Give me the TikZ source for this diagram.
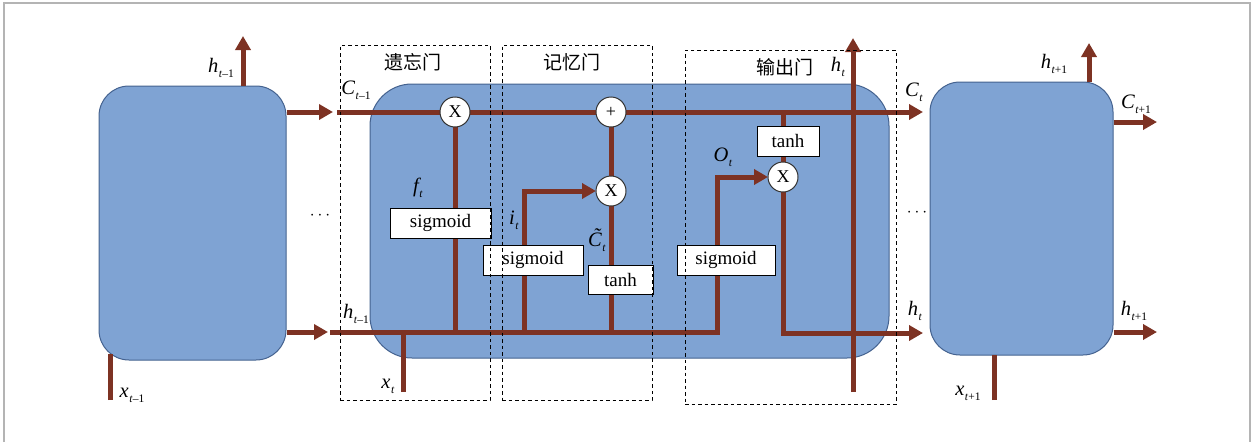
\documentclass[tikz,border=0pt]{standalone}
\usepackage{fontspec}
\setmainfont{Liberation Serif}
\newfontfamily\cjk{Noto Sans CJK SC}
\usetikzlibrary{arrows.meta}
\definecolor{flowc}{HTML}{7D3223}
\definecolor{cellfill}{HTML}{7FA3D3}
\definecolor{celledge}{HTML}{44628F}
\definecolor{frame}{HTML}{B4B4B4}
\newcommand{\vlab}[2]{{\fontsize{20.5}{20.5}\selectfont\itshape #1}\kern0.5pt\raisebox{-5pt}{\fontsize{11.5}{11.5}\selectfont #2}}
\newcommand{\tsub}{\textit{t}}
\tikzset{
  cell/.style={draw=celledge, fill=cellfill, line width=1pt, inner sep=0pt},
  gatebox/.style={draw=black, line width=1pt, dash pattern=on 3.5pt off 3pt, inner sep=0pt},
  flow/.style={draw=flowc, line width=5pt},
  flowarrow/.style={flow, -{Triangle[length=14pt,width=15pt]}},
  opc/.style={circle, draw=black!80, fill=white, line width=1pt, minimum size=30pt, inner sep=0pt, font=\fontsize{18}{18}\selectfont},
  fbox/.style={draw=black, fill=white, line width=1pt, inner sep=0pt, font=\fontsize{19}{19}\selectfont},
  lbl/.style={inner sep=0pt},
  title/.style={inner sep=0pt, font=\cjk\fontsize{19}{19}\selectfont},
}
\begin{document}
\begin{tikzpicture}[x=1pt,y=-1pt]
\useasboundingbox (0,0) rectangle (1252,442);
\draw[frame, line width=1.5pt] (4,442) -- (4,3) -- (1250,3) -- (1250,442);

% cells
\node[cell, minimum width=187pt, minimum height=274pt, rounded corners=30pt] (L) at (192.5,223) {};
\node[cell, minimum width=519pt, minimum height=274pt, rounded corners=42pt] (M) at (629.5,221) {};
\node[cell, minimum width=183pt, minimum height=273pt, rounded corners=30pt] (R) at (1021.5,218.5) {};

% coordinates
\coordinate (Cin) at (333,112);
\coordinate (C0) at (337,112);
\coordinate (hin) at (328,332);
\coordinate (hA) at (330,332);
\coordinate (hB) at (717,332);
\coordinate (Cout) at (923,112);
\coordinate (hout) at (923,333);
\coordinate (hLtop) at (243,36);
\coordinate (xL) at (110,400);
\coordinate (xLtop) at (110,354);
\coordinate (xM) at (403,392);
\coordinate (xMtop) at (403,332);
\coordinate (htbot) at (853,392);
\coordinate (httop) at (853,38);
\coordinate (hRtop) at (1089,43);
\coordinate (CRout) at (1157,122);
\coordinate (hRout) at (1157,332);
\coordinate (xR) at (994,400);
\coordinate (xRtop) at (994,355);

% operator positions
\coordinate (pfx) at (455,112);
\coordinate (pplus) at (611,112);
\coordinate (pix) at (611,191);
\coordinate (pox) at (783,177);

% left cell connectors
\draw[flowarrow] (L.east |- Cin) -- (Cin);
\draw[flowarrow] (L.east |- hin) -- (hin);
\draw[flowarrow] (L.north -| hLtop) -- (hLtop);
\draw[flow] (xL) -- (xLtop);

% right cell connectors
\draw[flowarrow] (R.north -| hRtop) -- (hRtop);
\draw[flowarrow] (R.east |- CRout) -- (CRout);
\draw[flowarrow] (R.east |- hRout) -- (hRout);
\draw[flow] (xR) -- (xRtop);

% central cell
\draw[flowarrow] (C0) -- (Cout);
\draw[flowarrow] (hA) -- (hB) -- (hB |- pox) -- ([xshift=-15pt]pox);
\draw[flowarrow] (pfx |- hA) -- ([yshift=15pt]pfx);
\draw[flowarrow] (524,332) -- (524,191) -- ([xshift=-15pt]pix);
\draw[flow] (pix |- hA) -- (pix);
\draw[flowarrow] (pix) -- ([yshift=15pt]pplus);
\draw[flow] (pox |- C0) -- (pox);
\draw[flowarrow] (pox) -- (pox |- hout) -- (hout);
\draw[flowarrow] (htbot) -- (httop);
\draw[flow] (xM) -- (xMtop);

% function boxes
\node[fbox, minimum width=101pt, minimum height=30pt] (s1) at (440.5,223) {sigmoid};
\node[fbox, minimum width=100pt, minimum height=30pt] (s2) at (533,260) {sigmoid};
\node[fbox, minimum width=65pt, minimum height=29pt] (t1) at (620.5,279.5) {tanh};
\node[fbox, minimum width=98pt, minimum height=30pt] (s3) at (726,260) {sigmoid};
\node[fbox, minimum width=62pt, minimum height=30pt] (t2) at (788,141) {tanh};

% operators
\node[opc] (fx) at (pfx) {X};
\node[opc] (plus) at (pplus) {+};
\node[opc] (ix) at (pix) {X};
\node[opc] (ox) at (pox) {X};

% labels
\node[lbl] (lhL) at (221,68) {\vlab{h}{\tsub–1}};
\node[lbl] (lxL) at (132,395) {\vlab{x}{\tsub–1}};
\node[lbl] (lC0) at (356,90) {\vlab{C}{\tsub–1}};
\node[lbl] (lh0) at (356,314) {\vlab{h}{\tsub–1}};
\node[lbl] (lf) at (418,188) {\vlab{f}{\tsub}};
\node[lbl] (li) at (514,220) {\vlab{i}{\tsub}};
\node[lbl] (lCt) at (597,240) {\vlab{\~{C}}{\tsub}};
\node[lbl] (lx) at (388,386) {\vlab{x}{\tsub}};
\node[lbl] (lO) at (723,157) {\vlab{O}{\tsub}};
\node[lbl] (lht) at (838,67) {\vlab{h}{\tsub}};
\node[lbl] (lCout) at (914,92) {\vlab{C}{\tsub}};
\node[lbl] (lhout) at (915,311) {\vlab{h}{\tsub}};
\node[lbl] (lhR) at (1054,64) {\vlab{h}{\tsub+1}};
\node[lbl] (lCR) at (1136,104) {\vlab{C}{\tsub+1}};
\node[lbl] (lhR2) at (1134,311) {\vlab{h}{\tsub+1}};
\node[lbl] (lxR) at (968,393) {\vlab{x}{\tsub+1}};
\node[lbl, font=\fontsize{18}{18}\selectfont] (dots1) at (320,216) {$\cdots$};
\node[lbl, font=\fontsize{18}{18}\selectfont] (dots2) at (917,213) {$\cdots$};

% gate frames
\node[gatebox, minimum width=150pt, minimum height=355pt] (G1) at (415,222.5) {};
\node[gatebox, minimum width=150pt, minimum height=355pt] (G2) at (577,222.5) {};
\node[gatebox, minimum width=211pt, minimum height=354pt] (G3) at (790.5,227) {};
\node[title] (T1) at (413,62) {遗忘门};
\node[title] (T2) at (572,62) {记忆门};
\node[title] (T3) at (785,67) {输出门};
\end{tikzpicture}
\end{document}
